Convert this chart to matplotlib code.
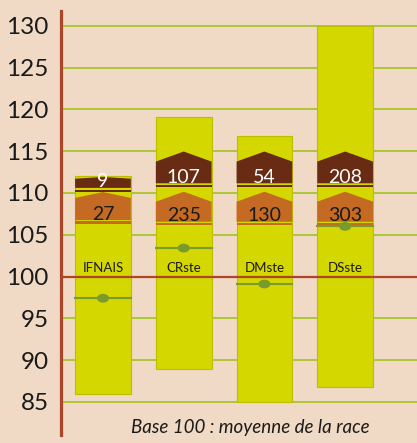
import numpy as np
import matplotlib
matplotlib.use('Agg')
import matplotlib.pyplot as plt
from matplotlib.patches import Polygon, Rectangle, Ellipse

# data
categories = ['IFNAIS', 'CRste', 'DMste', 'DSste']
bar_top = [112.0, 119.1, 116.8, 130.0]
bar_bottom = [86.0, 88.9, 85.0, 86.8]
mean_value = [97.4, 103.4, 99.1, 106.0]
dark_counts = [9, 107, 54, 208]
orange_counts = [27, 235, 130, 303]

# chevron bands (bottom, side, peak)
dark_bottom = [110.6, 111.15, 111.15, 111.15]
dark_side = [111.7, 113.75, 113.75, 113.75]
dark_peak = [111.9, 114.95, 114.95, 114.95]
orange_bottom = [106.75, 106.55, 106.55, 106.55]
orange_side = [109.4, 108.95, 108.95, 108.95]
orange_peak = [110.1, 110.14, 110.14, 110.14]

yticks = list(range(85, 131, 5))

bg = '#f0d9c5'
yellow = '#d4d700'
dark = '#6a2b14'
orange = '#c56a22'
grid_c = '#a6c42c'
red = '#ae4529'
green = '#7a9b2c'
font = ['Lato', 'DejaVu Sans']

fig = plt.figure(figsize=(4.17, 4.43), dpi=100, facecolor=bg)
ax = fig.add_axes([61/417, 8/443, 356/417, 424/443], facecolor=bg)
ax.set_xlim(-0.52, 3.89)
ax.set_ylim(81.04, 131.76)

w = 0.69
x = np.arange(len(categories))

for yv in yticks:
    if yv != 100:
        ax.axhline(yv, color=grid_c, lw=1.3, zorder=0)

for i in range(len(categories)):
    x0, x1 = x[i] - w/2, x[i] + w/2
    rect = Rectangle((x0, bar_bottom[i]), w, bar_top[i] - bar_bottom[i],
                     facecolor=yellow, edgecolor='#bcbf00', lw=0.8, zorder=2)
    ax.add_patch(rect)

    # dark band with chevron top
    p = Polygon([(x0, dark_bottom[i]), (x0, dark_side[i]), (x[i], dark_peak[i]),
                 (x1, dark_side[i]), (x1, dark_bottom[i])], closed=True,
                facecolor=dark, edgecolor='none', zorder=3)
    ax.add_patch(p)
    ax.add_patch(Rectangle((x0, dark_bottom[i] - 0.45), w, 0.25,
                           facecolor=dark, edgecolor='none', zorder=3))

    # orange band with chevron top
    p = Polygon([(x0, orange_bottom[i]), (x0, orange_side[i]), (x[i], orange_peak[i]),
                 (x1, orange_side[i]), (x1, orange_bottom[i])], closed=True,
                facecolor=orange, edgecolor='none', zorder=3)
    ax.add_patch(p)
    ax.add_patch(Rectangle((x0, orange_bottom[i] - 0.42), w, 0.25,
                           facecolor=orange, edgecolor='none', zorder=3))

    ax.text(x[i], dark_bottom[i] + 0.05, str(dark_counts[i]), color='white',
            ha='center', va='baseline', fontsize=14, family=font, zorder=6)
    ax.text(x[i], orange_bottom[i] + 0.05, str(orange_counts[i]), color='#1a1a1a',
            ha='center', va='baseline', fontsize=14, family=font, zorder=6)
    ax.text(x[i], 101.0, categories[i], color='#1e1a10', ha='center', va='center',
            fontsize=9.5, family=font, zorder=6)

    # mean marker
    ax.plot([x0, x1], [mean_value[i]] * 2, color=green, lw=1.5, zorder=5)
    ax.add_patch(Ellipse((x[i], mean_value[i]), 0.15, 1.05, facecolor=green,
                         edgecolor='none', zorder=5))

ax.axhline(100, color=red, lw=1.6, zorder=4)

for s in ['top', 'right', 'bottom']:
    ax.spines[s].set_visible(False)
ax.spines['left'].set_color(red)
ax.spines['left'].set_linewidth(2.3)
ax.set_xticks([])
ax.set_yticks(yticks)
ax.set_yticklabels([str(v) for v in yticks], fontsize=17.5, family=font, color='#1a1a1a',
                   va='center_baseline')
ax.tick_params(axis='y', length=0, pad=9)

fig.text(250/417, 1 - 428/443, 'Base 100 : moyenne de la race', ha='center', va='center',
         fontsize=13.5, style='italic', family=font, color='#1a1a1a')

fig.savefig('out.png', dpi=100, facecolor=bg)
